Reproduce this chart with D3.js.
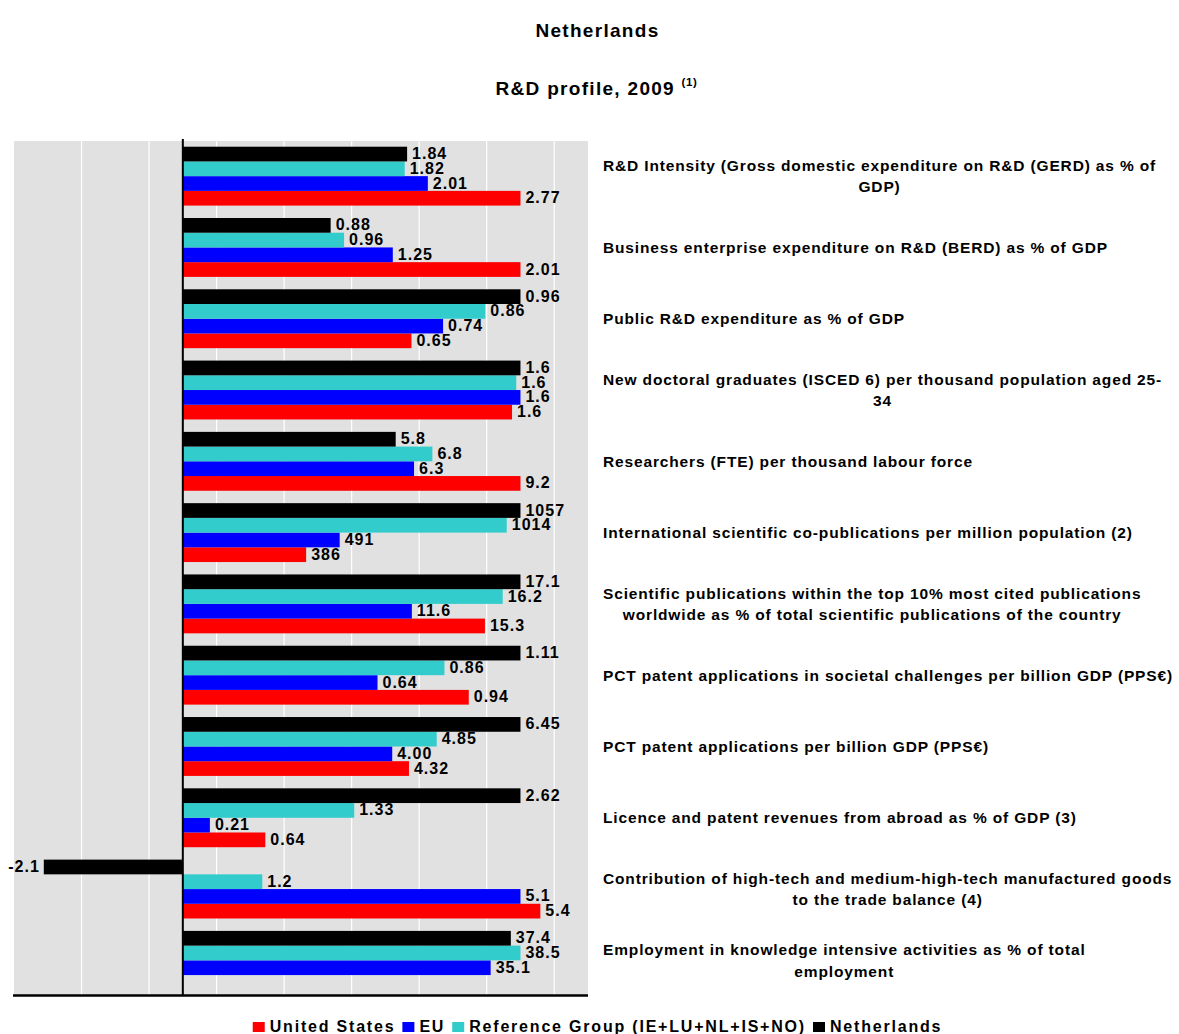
<!DOCTYPE html>
<html><head><meta charset="utf-8">
<script src="https://cdn.jsdelivr.net/npm/d3@7"></script>
<style>
body{margin:0;background:#fff}
svg{display:block}
text{font-family:"Liberation Sans",Arial,sans-serif;font-weight:bold;fill:#000}
</style>
</head><body><svg id="c" width="1179" height="1034"></svg>
<script>
const categories = [
  ["R&D Intensity (Gross domestic expenditure on R&D (GERD) as %  of","GDP)"],
  ["Business enterprise expenditure on R&D (BERD) as % of GDP"],
  ["Public R&D expenditure as % of GDP"],
  ["New doctoral graduates (ISCED 6) per thousand population aged 25-","34"],
  ["Researchers (FTE) per thousand labour force"],
  ["International scientific co-publications per million population (2)"],
  ["Scientific publications within the top 10% most cited publications","worldwide as % of total scientific publications of the country"],
  ["PCT patent applications in societal challenges per billion GDP (PPS€)"],
  ["PCT patent applications per billion GDP (PPS€)"],
  ["Licence and patent revenues from abroad as % of GDP (3)"],
  ["Contribution of high-tech and medium-high-tech manufactured goods","to the trade balance (4)"],
  ["Employment in knowledge intensive activities as % of total","employment"]
];
const seriesNames = ["United States","EU","Reference Group (IE+LU+NL+IS+NO)","Netherlands"];
const seriesColors = ["#ff0000","#0000ff","#33cccc","#000000"];
const usValues  = [2.77,2.01,0.65,1.56,9.2,386,15.3,0.94,4.32,0.64,5.4,null];
const euValues  = [2.01,1.25,0.74,1.60,6.3,491,11.6,0.64,4.00,0.21,5.1,35.1];
const refValues = [1.82,0.96,0.86,1.58,6.8,1014,16.2,0.86,4.85,1.33,1.2,38.5];
const nlValues  = [1.84,0.88,0.96,1.60,5.8,1057,17.1,1.11,6.45,2.62,-2.1,37.4];
const groupScale = [2.77,2.01,0.96,1.60,9.2,1057,17.1,1.11,6.45,2.62,5.1,38.5];
const labelDecimals = [2,2,2,1,1,0,1,2,2,2,1,1];
const gridTicks = [-0.3,-0.1,0.1,0.3,0.5,0.7,0.9,1.1];

const seriesValues = [usValues, euValues, refValues, nlValues];
const svg = d3.select("#c");

const plot = {left:14, right:588, top:141, bottom:995.5};
const x = d3.scaleLinear().domain([-0.5,1.2]).range([plot.left, plot.right]);
const y = d3.scaleBand().domain(d3.range(categories.length)).range([plot.top, plot.bottom])
  .paddingInner(0.174).paddingOuter(0.08);
const barOrder = [3,2,1,0]; // top to bottom: NL, Ref, EU, US
const yi = d3.scaleBand().domain(barOrder).range([0, y.bandwidth()]);

// background
svg.append("rect").attr("x",plot.left).attr("y",plot.top)
  .attr("width",plot.right-plot.left).attr("height",plot.bottom-plot.top).attr("fill","#e1e1e1");
svg.append("g").selectAll("line").data(gridTicks).join("line")
  .attr("x1",d=>x(d)).attr("x2",d=>x(d)).attr("y1",plot.top).attr("y2",plot.bottom)
  .attr("stroke","#ffffff").attr("stroke-width",1.2);

// bars
const rows = [];
categories.forEach((c,gi)=>{
  seriesValues.forEach((arr,si)=>{
    const v = arr[gi];
    if (v===null || v===undefined) return;
    rows.push({gi, si, v, n: v/groupScale[gi]});
  });
});
svg.append("g").selectAll("rect").data(rows).join("rect")
  .attr("x",d=>x(Math.min(0,d.n)))
  .attr("width",d=>Math.abs(x(d.n)-x(0)))
  .attr("y",d=>y(d.gi)+yi(d.si))
  .attr("height",yi.bandwidth())
  .attr("fill",d=>seriesColors[d.si]);

// value labels
svg.append("g").selectAll("text").data(rows).join("text")
  .attr("x",d=> d.n>=0 ? x(d.n)+5 : x(d.n)-4)
  .attr("y",d=>y(d.gi)+yi(d.si)+yi.bandwidth()/2+5)
  .attr("text-anchor",d=>d.n>=0?"start":"end")
  .style("font-size","16px").style("letter-spacing","1px")
  .text(d=>d.v.toFixed(labelDecimals[d.gi]));

// axes lines
svg.append("line").attr("x1",x(0)).attr("x2",x(0)).attr("y1",plot.top-2).attr("y2",plot.bottom)
  .attr("stroke","#000").attr("stroke-width",2);
svg.append("line").attr("x1",plot.left-1).attr("x2",plot.right).attr("y1",plot.bottom).attr("y2",plot.bottom)
  .attr("stroke","#000").attr("stroke-width",2.5);

// category labels
const catG = svg.append("g");
categories.forEach((lines,gi)=>{
  const cy = y(gi)+y.bandwidth()/2;
  const lh = 21.5;
  const tmp = lines.map(l=>catG.append("text").style("font-size","15.5px").style("letter-spacing","0.85px").text(l));
  const maxW = d3.max(tmp, t=>t.node().getComputedTextLength());
  const cx = 603 + maxW/2;
  tmp.forEach((t,li)=>{
    t.attr("x",cx).attr("text-anchor","middle")
     .attr("y", cy + (li-(lines.length-1)/2)*lh + 5.5);
  });
});

// titles
svg.append("text").attr("x",597.5).attr("y",36.5).attr("text-anchor","middle")
  .style("font-size","19px").style("letter-spacing","1.3px").text("Netherlands");
const t2 = svg.append("text").attr("x",596.5).attr("y",94.5).attr("text-anchor","middle")
  .style("font-size","19px").style("letter-spacing","1.3px");
t2.append("tspan").text("R&D profile, 2009 ");
t2.append("tspan").attr("dy",-9).style("font-size","11.5px").style("letter-spacing","0.6px").text("(1)");

// legend
const lg = svg.append("g");
let lx = 0;
seriesNames.forEach((n,i)=>{
  const g = lg.append("g");
  g.append("rect").attr("x",lx).attr("y",-10).attr("width",12).attr("height",10).attr("fill",seriesColors[i]);
  const t = g.append("text").attr("x",lx+17).attr("y",0).style("font-size","16px").style("letter-spacing","1.8px").text(n);
  lx += 17 + t.node().getComputedTextLength() + 7;
});
const totalW = lx - 7;
lg.attr("transform",`translate(${597.5-totalW/2},1032)`);
</script>
</body></html>
